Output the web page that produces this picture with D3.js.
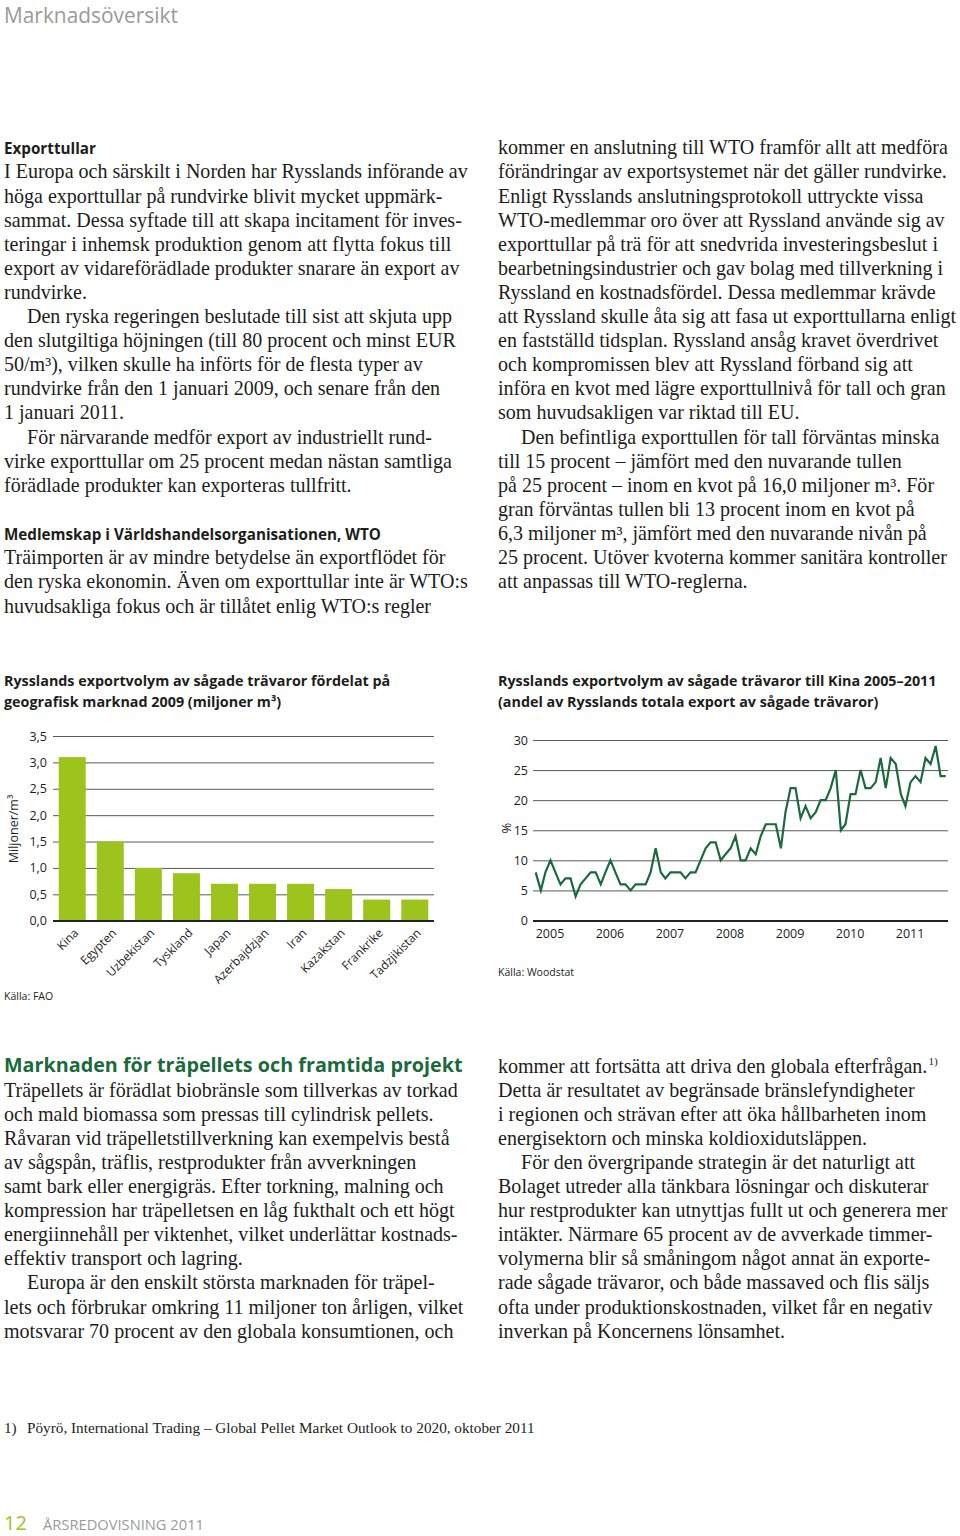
<!DOCTYPE html>
<html><head><meta charset="utf-8">
<script src="https://cdn.jsdelivr.net/npm/d3@7"></script>
<style>body{margin:0;background:#fff}svg{display:block}</style>
</head><body>
<script>
// ---------- DATA ----------
const barCategories = ["Kina","Egypten","Uzbekistan","Tyskland","Japan","Azerbajdzjan","Iran","Kazakstan","Frankrike","Tadzjikistan"];
const barValues = [3.1,1.5,1.0,0.9,0.7,0.7,0.7,0.6,0.4,0.4];
const barTicks = [0,0.5,1.0,1.5,2.0,2.5,3.0,3.5];

const lineStartYear = 2005, lineStartMonth = 0; // monthly series from Jan 2005
const lineValues = [8,5,8,10,8,6,7,7,4,6,7,8,8,6,8,10,8,6,6,5,6,6,6,8,12,8,7,8,
  8,8,7,8,8,10,12,13,13,10,11,12,14,10,10,12,11,14,16,16,16,12,18,22,22,17,19,17,
  18,20,20,22,25,15,16,21,21,25,22,22,23,27,22,27,26,21,19,23,24,23,27,26,29,24,24];
const lineTicks = [0,5,10,15,20,25,30];
const yearTicks = [2005,2006,2007,2008,2009,2010,2011];

const pageHeader = "Marknadsöversikt";
const heading1 = "Exporttullar";
const leftTopLines = [
 "I Europa och särskilt i Norden har Rysslands införande av",
 "höga exporttullar på rundvirke blivit mycket uppmärk-",
 "sammat. Dessa syftade till att skapa incitament för inves-",
 "teringar i inhemsk produktion genom att flytta fokus till",
 "export av vidareförädlade produkter snarare än export av",
 "rundvirke.",
 "\tDen ryska regeringen beslutade till sist att skjuta upp",
 "den slutgiltiga höjningen (till 80 procent och minst EUR",
 "50/m³), vilken skulle ha införts för de flesta typer av",
 "rundvirke från den 1 januari 2009, och senare från den",
 "1 januari 2011.",
 "\tFör närvarande medför export av industriellt rund-",
 "virke exporttullar om 25 procent medan nästan samtliga",
 "förädlade produkter kan exporteras tullfritt."
];
const heading2 = "Medlemskap i Världshandelsorganisationen, WTO";
const leftTopLines2 = [
 "Träimporten är av mindre betydelse än exportflödet för",
 "den ryska ekonomin. Även om exporttullar inte är WTO:s",
 "huvudsakliga fokus och är tillåtet enlig WTO:s regler"
];
const rightTopLines = [
 "kommer en anslutning till WTO framför allt att medföra",
 "förändringar av exportsystemet när det gäller rundvirke.",
 "Enligt Rysslands anslutningsprotokoll uttryckte vissa",
 "WTO-medlemmar oro över att Ryssland använde sig av",
 "exporttullar på trä för att snedvrida investeringsbeslut i",
 "bearbetningsindustrier och gav bolag med tillverkning i",
 "Ryssland en kostnadsfördel. Dessa medlemmar krävde",
 "att Ryssland skulle åta sig att fasa ut exporttullarna enligt",
 "en fastställd tidsplan. Ryssland ansåg kravet överdrivet",
 "och kompromissen blev att Ryssland förband sig att",
 "införa en kvot med lägre exporttullnivå för tall och gran",
 "som huvudsakligen var riktad till EU.",
 "\tDen befintliga exporttullen för tall förväntas minska",
 "till 15 procent – jämfört med den nuvarande tullen",
 "på 25 procent – inom en kvot på 16,0 miljoner m³. För",
 "gran förväntas tullen bli 13 procent inom en kvot på",
 "6,3 miljoner m³, jämfört med den nuvarande nivån på",
 "25 procent. Utöver kvoterna kommer sanitära kontroller",
 "att anpassas till WTO-reglerna."
];
const barTitle = ["Rysslands exportvolym av sågade trävaror fördelat på","geografisk marknad 2009 (miljoner m³)"];
const lineTitle = ["Rysslands exportvolym av sågade trävaror till Kina 2005–2011","(andel av Rysslands totala export av sågade trävaror)"];
const barYLabel = "Miljoner/m³";
const lineYLabel = "%";
const barSource = "Källa: FAO";
const lineSource = "Källa: Woodstat";
const heading3 = "Marknaden för träpellets och framtida projekt";
const leftBottomLines = [
 "Träpellets är förädlat biobränsle som tillverkas av torkad",
 "och mald biomassa som pressas till cylindrisk pellets.",
 "Råvaran vid träpelletstillverkning kan exempelvis bestå",
 "av sågspån, träflis, restprodukter från avverkningen",
 "samt bark eller energigräs. Efter torkning, malning och",
 "kompression har träpelletsen en låg fukthalt och ett högt",
 "energiinnehåll per viktenhet, vilket underlättar kostnads-",
 "effektiv transport och lagring.",
 "\tEuropa är den enskilt största marknaden för träpel-",
 "lets och förbrukar omkring 11 miljoner ton årligen, vilket",
 "motsvarar 70 procent av den globala konsumtionen, och"
];
const rightBottomLines = [
 "kommer att fortsätta att driva den globala efterfrågan.^1)",
 "Detta är resultatet av begränsade bränslefyndigheter",
 "i regionen och strävan efter att öka hållbarheten inom",
 "energisektorn och minska koldioxidutsläppen.",
 "\tFör den övergripande strategin är det naturligt att",
 "Bolaget utreder alla tänkbara lösningar och diskuterar",
 "hur restprodukter kan utnyttjas fullt ut och generera mer",
 "intäkter. Närmare 65 procent av de avverkade timmer-",
 "volymerna blir så småningom något annat än exporte-",
 "rade sågade trävaror, och både massaved och flis säljs",
 "ofta under produktionskostnaden, vilket får en negativ",
 "inverkan på Koncernens lönsamhet."
];
const footnoteMark = "1)";
const footnoteText = "Pöyrö, International Trading – Global Pellet Market Outlook to 2020, oktober 2011";
const pageNumber = "12";
const pageFooter = "ÅRSREDOVISNING 2011";

// ---------- SETUP ----------
const W = 960, H = 1536;
const svg = d3.select("body").append("svg").attr("width", W).attr("height", H);
const SERIF = "'Liberation Serif','Times New Roman',serif";
const SANS = "'Open Sans','Noto Sans','DejaVu Sans',sans-serif";
const TEXT = "#1d1d1b";
const GREEN_DARK = "#1b6a3c";
const LIME = "#9cc41c";

function fitSize(family, weight, text, target, base = 20) {
  const t = svg.append("text").attr("font-family", family).attr("font-weight", weight)
    .attr("font-size", base).text(text);
  const w = t.node().getComputedTextLength();
  t.remove();
  return base * target / w;
}

const bodySize = fitSize(SERIF, 400, leftTopLines[0], 464);
const headSize = fitSize(SANS, 700, heading2, 377);
const titleSize = fitSize(SANS, 700, lineTitle[0], 439);
const greenSize = fitSize(SANS, 700, heading3, 459);
const footSize = fitSize(SERIF, 400, footnoteText, 508);
const LH = 24.1;

function block(x, y0, lines, size) {
  lines.forEach((l, i) => {
    const indent = l.startsWith("\t");
    let s = l.replace("\t", "");
    const t = svg.append("text").attr("x", x + (indent ? 23 : 0)).attr("y", y0 + i * LH)
      .attr("font-family", SERIF).attr("font-size", size).attr("fill", TEXT);
    if (s.includes("^")) {
      const [a, b] = s.split("^");
      t.append("tspan").text(a);
      t.append("tspan").attr("font-size", size * 0.55).attr("dy", -size * 0.38).attr("dx", 1).text(b);
    } else t.text(s);
  });
}
function label(x, y, text, size, opts = {}) {
  return svg.append("text").attr("x", x).attr("y", y).text(text)
    .attr("font-family", opts.family || SANS).attr("font-weight", opts.weight || 400)
    .attr("font-size", size).attr("fill", opts.fill || TEXT)
    .attr("text-anchor", opts.anchor || "start");
}

// header
label(4, 23, pageHeader, fitSize(SANS, 400, pageHeader, 174), {fill: "#9a9a9a"});

// top text
label(4, 153.5, heading1, headSize, {weight: 700});
block(4, 178.4, leftTopLines, bodySize);
label(4, 539.5, heading2, headSize, {weight: 700});
block(4, 564.3, leftTopLines2, bodySize);
block(498, 154.3, rightTopLines, bodySize);

// chart titles
barTitle.forEach((t, i) => label(4, 686 + i * 20.5, t, titleSize, {weight: 700}));
lineTitle.forEach((t, i) => label(498, 686 + i * 20.5, t, titleSize, {weight: 700}));

// ---------- BAR CHART ----------
const fmt = v => d3.format(".1f")(v).replace(".", ",");
const by = d3.scaleLinear().domain([0, 3.5]).range([920.7, 736]);
const bx = d3.scaleBand().domain(barCategories).range([53, 434]).paddingInner(0.29).paddingOuter(0.15);
const gBar = svg.append("g");
const bAxis = gBar.append("g").attr("transform", "translate(53,0)")
  .call(d3.axisLeft(by).tickValues(barTicks).tickSize(-(434 - 53)).tickPadding(6).tickFormat(fmt));
bAxis.select(".domain").remove();
bAxis.selectAll(".tick line").attr("stroke", "#5a5a5a").attr("stroke-width", 1)
  .filter(d => d === 0).attr("stroke", "#222").attr("stroke-width", 1.6);
bAxis.selectAll(".tick text").attr("font-family", SANS).attr("font-size", 12.5).attr("fill", TEXT);
gBar.selectAll("rect.bar").data(barValues).join("rect").attr("class", "bar")
  .attr("x", (d, i) => bx(barCategories[i])).attr("width", bx.bandwidth())
  .attr("y", d => by(d)).attr("height", d => by(0) - by(d)).attr("fill", LIME);
gBar.append("line").attr("x1", 53).attr("x2", 434).attr("y1", by(0)).attr("y2", by(0))
  .attr("stroke", "#222").attr("stroke-width", 1.6);
gBar.selectAll("text.cat").data(barCategories).join("text").attr("class", "cat")
  .attr("transform", d => `translate(${bx(d) + bx.bandwidth() / 2 + 4},${by(0) + 10}) rotate(-45)`)
  .attr("text-anchor", "end").attr("dy", "0.35em")
  .attr("font-family", SANS).attr("font-size", 12).attr("fill", TEXT).text(d => d);
svg.append("text").attr("transform", "translate(18,829) rotate(-90)").attr("text-anchor", "middle")
  .attr("font-family", SANS).attr("font-size", 12.5).attr("fill", TEXT).text(barYLabel);
label(4, 999.5, barSource, 10.5);

// ---------- LINE CHART ----------
const start = new Date(lineStartYear, lineStartMonth, 1);
const lineDates = lineValues.map((v, i) => d3.timeMonth.offset(start, i));
const lx = d3.scaleTime().domain([lineDates[0], lineDates[lineDates.length - 1]]).range([535.7, 945.7]);
const ly = d3.scaleLinear().domain([0, 30]).range([920.5, 740]);
const gLine = svg.append("g");
const lAxis = gLine.append("g").attr("transform", "translate(533,0)")
  .call(d3.axisLeft(ly).tickValues(lineTicks).tickSize(-(948 - 533)).tickPadding(5).tickFormat(d3.format("d")));
lAxis.select(".domain").remove();
lAxis.selectAll(".tick line").attr("stroke", "#5a5a5a").attr("stroke-width", 1)
  .filter(d => d === 0).attr("stroke", "#222").attr("stroke-width", 2);
lAxis.selectAll(".tick text").attr("font-family", SANS).attr("font-size", 12.5).attr("fill", TEXT);
gLine.append("path").datum(lineValues)
  .attr("d", d3.line().x((d, i) => lx(lineDates[i])).y(d => ly(d)))
  .attr("fill", "none").attr("stroke", GREEN_DARK).attr("stroke-width", 2.2)
  .attr("stroke-linejoin", "miter");
gLine.selectAll("text.yr").data(yearTicks).join("text").attr("class", "yr")
  .attr("x", d => lx(new Date(d, 0, 1))).attr("y", 938)
  .attr("font-family", SANS).attr("font-size", 12.5).attr("fill", TEXT).text(d => d);
svg.append("text").attr("transform", "translate(511,828) rotate(-90)").attr("text-anchor", "middle")
  .attr("font-family", SANS).attr("font-size", 13).attr("fill", TEXT).text(lineYLabel);
label(498, 976, lineSource, 10.5);

// ---------- BOTTOM TEXT ----------
label(4, 1071.5, heading3, greenSize, {weight: 700, fill: GREEN_DARK});
block(4, 1096.6, leftBottomLines, bodySize);
block(498, 1072.5, rightBottomLines, bodySize);

// footnote
svg.append("text").attr("x", 4).attr("y", 1432.5).attr("font-family", SERIF).attr("font-size", footSize)
  .attr("fill", TEXT).text(footnoteMark);
svg.append("text").attr("x", 27).attr("y", 1432.5).attr("font-family", SERIF).attr("font-size", footSize)
  .attr("fill", TEXT).text(footnoteText);

// footer
label(4, 1530, pageNumber, 20, {fill: LIME});
label(43, 1530, pageFooter, fitSize(SANS, 400, pageFooter, 161), {fill: "#9a9a9a"});
</script>
</body></html>
